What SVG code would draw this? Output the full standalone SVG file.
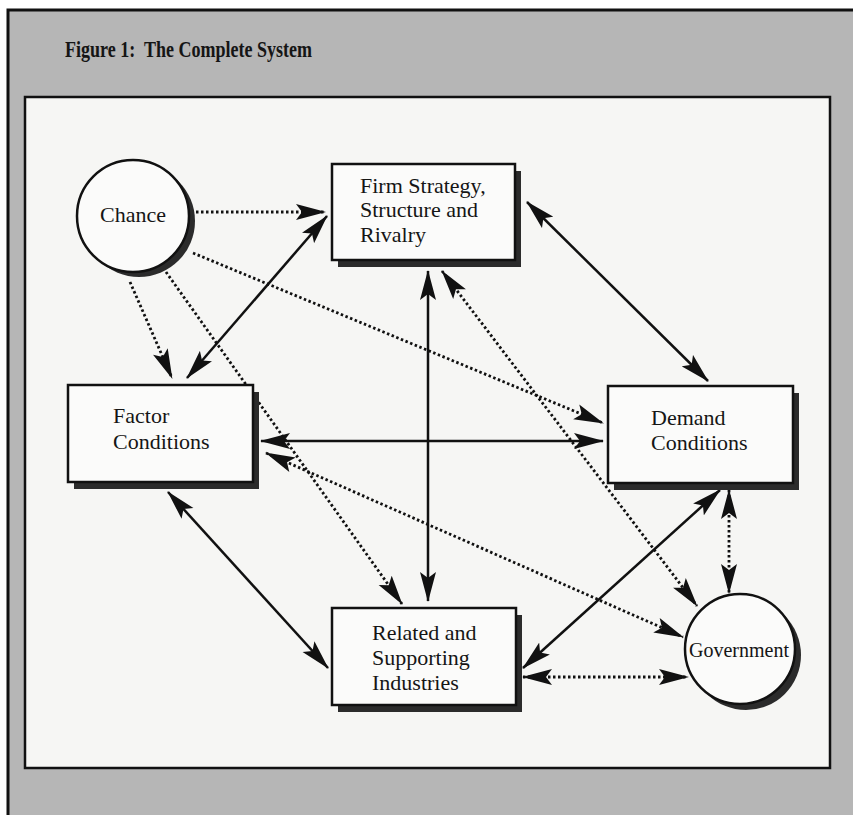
<svg xmlns="http://www.w3.org/2000/svg" width="853" height="815" viewBox="0 0 853 815">
<defs>
<marker id="ah" markerUnits="userSpaceOnUse" markerWidth="30" markerHeight="17" refX="29" refY="8.5" orient="auto-start-reverse" viewBox="0 0 30 17">
<path d="M0,0.5 L30,8.5 L0,16.5 L6,8.5 z" fill="#111"/>
</marker>
</defs>
<style>
.lbl{font-family:"Liberation Serif","Times New Roman",serif;font-size:22px;fill:#151515}
.box{fill:#fbfbfa;stroke:#111;stroke-width:2.5}
.sh{fill:#2b2b2b}
.solid{fill:none;stroke:#111;stroke-width:2.5}
.dot{fill:none;stroke:#111;stroke-width:2.8;stroke-dasharray:2.5 2.5}
</style>
<rect x="8" y="10" width="900" height="900" fill="#b6b6b6" stroke="#111" stroke-width="3"/>
<text x="65" y="57" font-family="'Liberation Serif','Times New Roman',serif" font-weight="bold" font-size="23" fill="#151515" textLength="247" lengthAdjust="spacingAndGlyphs">Figure 1:&#160; The Complete System</text>
<rect x="25" y="97" width="805" height="671" fill="#f6f6f4" stroke="#111" stroke-width="2.5"/>

<g id="connectors">
<path class="dot" d="M196,212 L325,212" marker-end="url(#ah)"/>
<path class="dot" d="M130,282 L172,378" marker-end="url(#ah)"/>
<path class="dot" d="M193,253 L603,423" marker-end="url(#ah)"/>
<path class="dot" d="M166,272 L402,604" marker-end="url(#ah)"/>
<path class="solid" d="M187,378 L327,216" marker-start="url(#ah)" marker-end="url(#ah)"/>
<path class="solid" d="M428,271 L428,601" marker-start="url(#ah)" marker-end="url(#ah)"/>
<path class="solid" d="M261,441 L603,441" marker-start="url(#ah)" marker-end="url(#ah)"/>
<path class="solid" d="M527,202 L708,381" marker-start="url(#ah)" marker-end="url(#ah)"/>
<path class="solid" d="M168,492 L328,668" marker-start="url(#ah)" marker-end="url(#ah)"/>
<path class="solid" d="M720,490 L523,668" marker-start="url(#ah)" marker-end="url(#ah)"/>
<path class="dot" d="M442,271 L697,606" marker-start="url(#ah)" marker-end="url(#ah)"/>
<path class="dot" d="M266,453 L683,637" marker-start="url(#ah)" marker-end="url(#ah)"/>
<path class="dot" d="M729,490 L729,593" marker-start="url(#ah)" marker-end="url(#ah)"/>
<path class="dot" d="M523,677 L688,677" marker-start="url(#ah)" marker-end="url(#ah)"/>
</g>

<g id="chance">
<circle cx="139" cy="221" r="56" class="sh"/>
<circle cx="133" cy="216" r="56" class="box"/>
<text class="lbl" x="133" y="222" text-anchor="middle">Chance</text>
</g>

<g id="firm">
<rect x="338" y="171" width="183" height="96" class="sh"/>
<rect x="332" y="164" width="183" height="96" class="box"/>
<text class="lbl" x="360" y="193">Firm Strategy,</text>
<text class="lbl" x="360" y="217">Structure and</text>
<text class="lbl" x="360" y="242">Rivalry</text>
</g>

<g id="factor">
<rect x="74" y="392" width="185" height="97" class="sh"/>
<rect x="68" y="385" width="185" height="97" class="box"/>
<text class="lbl" x="113" y="423">Factor</text>
<text class="lbl" x="113" y="449">Conditions</text>
</g>

<g id="demand">
<rect x="614" y="393" width="185" height="97" class="sh"/>
<rect x="608" y="386" width="185" height="97" class="box"/>
<text class="lbl" x="651" y="425">Demand</text>
<text class="lbl" x="651" y="450">Conditions</text>
</g>

<g id="related">
<rect x="338" y="615" width="184" height="97" class="sh"/>
<rect x="332" y="608" width="184" height="97" class="box"/>
<text class="lbl" x="372" y="640">Related and</text>
<text class="lbl" x="372" y="665">Supporting</text>
<text class="lbl" x="372" y="690">Industries</text>
</g>

<g id="government">
<circle cx="746" cy="655" r="55" class="sh"/>
<circle cx="740" cy="649" r="55" class="box"/>
<text class="lbl" x="739" y="657" text-anchor="middle" style="font-size:20px">Government</text>
</g>
</svg>
